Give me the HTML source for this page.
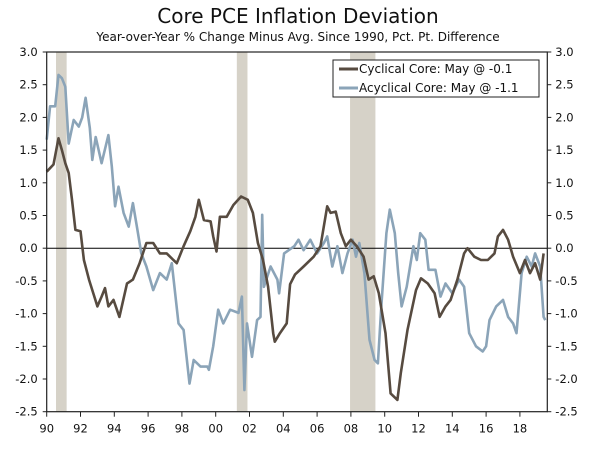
<!DOCTYPE html>
<html><head><meta charset="utf-8"><style>
body{margin:0;background:#fff;width:600px;height:446px;overflow:hidden}
text{font-family:"DejaVu Sans","Liberation Sans",sans-serif;fill:#111}
</style></head><body>
<svg id="chart" width="600" height="446" viewBox="0 0 600 446" xmlns="http://www.w3.org/2000/svg">
<text x="298" y="23" text-anchor="middle" font-size="20">Core PCE Inflation Deviation</text>
<text x="298" y="41" text-anchor="middle" font-size="12">Year-over-Year % Change Minus Avg. Since 1990, Pct. Pt. Difference</text>
<g id="rec"></g><g id="grid"></g><g id="series"></g><g id="axes"></g>
<g>
<rect x="333" y="60" width="206" height="37" fill="#fff" stroke="#222" stroke-width="1"/>
<line x1="339" y1="69" x2="358" y2="69" stroke="#574b40" stroke-width="3"/>
<text x="359" y="73" font-size="12">Cyclical Core: May @ -0.1</text>
<line x1="339" y1="88" x2="358" y2="88" stroke="#8ba4b8" stroke-width="3"/>
<text x="359" y="92" font-size="12">Acyclical Core: May @ -1.1</text>
</g>
</svg>
<script>
const yTicks=[3.0,2.5,2.0,1.5,1.0,0.5,0.0,-0.5,-1.0,-1.5,-2.0,-2.5];
const xTickYears=[1990,1992,1994,1996,1998,2000,2002,2004,2006,2008,2010,2012,2014,2016,2018];
const xTickLabels=["90","92","94","96","98","00","02","04","06","08","10","12","14","16","18"];
const recessions=[[1990.55,1991.18],[2001.25,2001.88],[2007.95,2009.45]];
const cycYears=[1990,1990.4,1990.7,1990.9,1991.1,1991.3,1991.5,1991.7,1992,1992.2,1992.5,1992.7,1993,1993.25,1993.45,1993.65,1993.95,1994.3,1994.75,1995.1,1995.5,1995.9,1996.3,1996.7,1997.1,1997.5,1997.7,1998.1,1998.5,1998.8,1999,1999.3,1999.7,1999.85,2000.05,2000.25,2000.65,2001.05,2001.5,2001.9,2002.2,2002.5,2002.8,2003.1,2003.4,2003.5,2003.8,2004.2,2004.4,2004.7,2005.2,2005.8,2006.2,2006.6,2006.8,2007.1,2007.4,2007.7,2008,2008.35,2008.75,2009.05,2009.35,2009.65,2010.05,2010.35,2010.75,2010.95,2011.35,2011.85,2012.15,2012.55,2012.95,2013.25,2013.6,2013.9,2014.3,2014.7,2014.9,2015.3,2015.7,2016.1,2016.5,2016.7,2017,2017.3,2017.6,2018,2018.3,2018.6,2018.9,2019.2,2019.4];
const cycVals=[1.17,1.28,1.68,1.5,1.3,1.15,0.74,0.28,0.26,-0.18,-0.48,-0.64,-0.89,-0.74,-0.61,-0.89,-0.79,-1.05,-0.54,-0.48,-0.23,0.08,0.08,-0.08,-0.08,-0.18,-0.23,0.03,0.26,0.48,0.74,0.43,0.41,0.18,-0.05,0.48,0.48,0.66,0.79,0.74,0.54,0.08,-0.18,-0.59,-1.3,-1.43,-1.3,-1.15,-0.55,-0.4,-0.28,-0.13,0.03,0.64,0.54,0.56,0.23,0.03,0.13,0.03,-0.13,-0.48,-0.43,-0.69,-1.3,-2.22,-2.32,-1.91,-1.25,-0.64,-0.46,-0.54,-0.69,-1.05,-0.89,-0.79,-0.48,-0.08,0,-0.13,-0.18,-0.18,-0.08,0.18,0.28,0.13,-0.13,-0.38,-0.18,-0.38,-0.23,-0.48,-0.08];
const acyYears=[1990,1990.2,1990.5,1990.7,1990.9,1991.1,1991.3,1991.6,1991.9,1992.1,1992.3,1992.55,1992.7,1992.9,1993.25,1993.65,1993.85,1994.05,1994.25,1994.55,1994.85,1995.1,1995.35,1995.6,1995.9,1996.3,1996.7,1997.1,1997.4,1997.8,1998.1,1998.45,1998.7,1999.1,1999.5,1999.6,1999.85,2000.15,2000.45,2000.85,2001.35,2001.55,2001.7,2001.85,2002.15,2002.45,2002.65,2002.75,2002.85,2003.25,2003.65,2003.75,2004.05,2004.65,2004.9,2005.2,2005.6,2006,2006.4,2006.6,2006.9,2007.2,2007.5,2007.8,2008.1,2008.3,2008.5,2008.8,2009.1,2009.4,2009.6,2009.8,2010.1,2010.3,2010.6,2010.8,2011,2011.3,2011.7,2011.9,2012.1,2012.4,2012.6,2013,2013.3,2013.6,2014,2014.4,2014.7,2015,2015.4,2015.8,2016,2016.2,2016.6,2017,2017.3,2017.6,2017.8,2018.1,2018.4,2018.7,2018.9,2019.2,2019.4,2019.5];
const acyVals=[1.66,2.17,2.17,2.65,2.6,2.47,1.6,1.96,1.86,2.0,2.3,1.84,1.35,1.7,1.3,1.73,1.25,0.64,0.94,0.54,0.33,0.69,0.31,-0.08,-0.28,-0.64,-0.38,-0.48,-0.23,-1.15,-1.25,-2.07,-1.71,-1.81,-1.81,-1.86,-1.5,-0.94,-1.15,-0.94,-0.99,-0.74,-2.17,-1.15,-1.66,-1.1,-1.05,0.51,-0.59,-0.28,-0.48,-0.69,-0.08,0.03,0.13,-0.03,0.13,-0.08,0.08,0.18,-0.28,0.03,-0.38,-0.08,0.13,-0.13,0.08,-0.38,-1.4,-1.71,-1.76,-0.89,0.23,0.59,0.23,-0.38,-0.89,-0.59,0.03,-0.18,0.23,0.13,-0.33,-0.33,-0.74,-0.54,-0.69,-0.48,-0.59,-1.3,-1.5,-1.58,-1.5,-1.1,-0.89,-0.79,-1.05,-1.15,-1.3,-0.38,-0.13,-0.28,-0.08,-0.28,-1.05,-1.1];
const L=46.7,R=547.3,T=52,B=411.7,X0=1990,PX=16.9;
const x=v=>L+(v-X0)*PX, y=v=>T+(3-v)*(B-T)/5.5;
const NS="http://www.w3.org/2000/svg";
function mk(tag,parent,attrs){const e=document.createElementNS(NS,tag);for(const k in attrs)e.setAttribute(k,attrs[k]);document.getElementById(parent).appendChild(e);return e;}
recessions.forEach(r=>{const e=mk('rect','rec',{x:x(r[0]),y:T,width:x(r[1])-x(r[0]),height:B-T,fill:'#d6d2c8'});

});
let z=mk('line','grid',{x1:L,x2:R,y1:y(0),y2:y(0),stroke:'#000','stroke-width':1});


function line(xs,vs,col,name){const d=xs.map((v,i)=>(i?'L':'M')+x(v).toFixed(1)+','+y(vs[i]).toFixed(1)).join('');
const p=mk('path','series',{d:d,fill:'none',stroke:col,'stroke-width':2.6,'stroke-linejoin':'round'});

}
line(acyYears,acyVals,'#8ba4b8','acyclical-core-line');
line(cycYears,cycVals,'#574b40','cyclical-core-line');
const fr=mk('rect','axes',{x:L,y:T,width:R-L,height:B-T,fill:'none',stroke:'#222','stroke-width':1.2});


yTicks.forEach(t=>{const yy=y(t);
mk('line','axes',{x1:L-4,x2:L,y1:yy,y2:yy,stroke:'#222'});
mk('line','axes',{x1:R,x2:R+4,y1:yy,y2:yy,stroke:'#222'});
const a=mk('text','axes',{x:L-9,y:yy+4,'text-anchor':'end','font-size':11.5});a.textContent=t.toFixed(1);


const b=mk('text','axes',{x:R+8,y:yy+4,'font-size':11.5});b.textContent=t.toFixed(1);

});
xTickYears.forEach((t,i)=>{const xx=x(t);
mk('line','axes',{x1:xx,x2:xx,y1:B,y2:B+5,stroke:'#222'});
const a=mk('text','axes',{x:xx,y:B+21,'text-anchor':'middle','font-size':11.5});a.textContent=xTickLabels[i];

});
</script>
</body></html>
